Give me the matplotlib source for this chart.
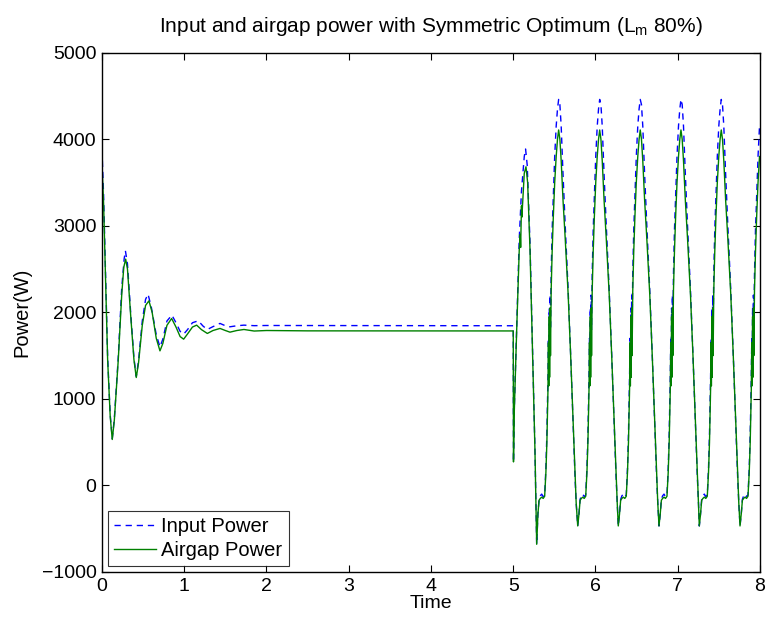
import numpy as np
import matplotlib.pyplot as plt

plt.rcParams['font.family'] = ['Liberation Sans', 'DejaVu Sans']
plt.rcParams['mathtext.default'] = 'regular'

# transient part (time, power)
t_in_early = [0, 0.02, 0.04, 0.069, 0.10, 0.125, 0.15, 0.198, 0.24, 0.27, 0.285, 0.31, 0.35, 0.389,
              0.417, 0.445, 0.49, 0.53, 0.56, 0.60, 0.66, 0.705, 0.74, 0.79, 0.85, 0.90, 0.95, 0.993,
              1.04, 1.10, 1.171, 1.23, 1.281, 1.35, 1.435, 1.50, 1.556, 1.64, 1.726, 1.85, 2.0, 5.0]
p_in_early = [3880, 3350, 2600, 1480, 820, 540, 770, 1480, 2280, 2620, 2711, 2560, 1980, 1470,
              1260, 1440, 1900, 2150, 2210, 2060, 1740, 1601, 1690, 1900, 1968, 1880, 1780, 1748,
              1800, 1880, 1902, 1840, 1802, 1835, 1872, 1845, 1833, 1845, 1852, 1846, 1848, 1845]

t_ag_early = [0, 0.02, 0.04, 0.069, 0.10, 0.125, 0.15, 0.198, 0.24, 0.265, 0.288, 0.31, 0.35, 0.389,
              0.417, 0.445, 0.49, 0.53, 0.571, 0.61, 0.66, 0.705, 0.74, 0.79, 0.847, 0.90, 0.95, 0.993,
              1.04, 1.10, 1.151, 1.21, 1.281, 1.35, 1.435, 1.50, 1.556, 1.64, 1.726, 1.85, 2.0, 2.5, 5.0]
p_ag_early = [3720, 3250, 2500, 1449, 800, 531, 750, 1450, 2200, 2520, 2615, 2500, 1950, 1450,
              1247, 1420, 1850, 2080, 2133, 2000, 1700, 1555, 1640, 1850, 1929, 1830, 1720, 1690,
              1750, 1830, 1852, 1800, 1756, 1790, 1814, 1790, 1771, 1790, 1802, 1784, 1790, 1786, 1785]

# load step at t = 5 up to the first trough
t_in_step = [5.003, 5.008, 5.012, 5.042, 5.073, 5.10, 5.134, 5.150, 5.17, 5.204, 5.244, 5.264]
p_in_step = [272, 620, 850, 1850, 2850, 3400, 3800, 3887, 3700, 2800, 1190, 410]
t_ag_step = [5.003, 5.008, 5.012, 5.042, 5.073, 5.085, 5.09, 5.10, 5.105, 5.134, 5.155, 5.175,
             5.204, 5.244, 5.264]
p_ag_step = [272, 600, 831, 1799, 2720, 2900, 2750, 3230, 3100, 3606, 3682, 3500,
             2720, 1178, 407]

# one period of the loaded oscillation, time measured from each trough
cycle_dt = [0, 0.015, 0.029, 0.044, 0.061, 0.079, 0.097, 0.112, 0.124, 0.137, 0.143, 0.147,
            0.153, 0.157, 0.163, 0.168, 0.176, 0.188, 0.202, 0.219, 0.237, 0.253, 0.267, 0.282,
            0.298, 0.320, 0.347, 0.383, 0.413, 0.444, 0.466, 0.480]
cycle_in = [-468, -330, -160, -120, -100, -130, -110, 200, 600, 1250, 1700, 1350,
            2050, 1500, 2200, 1800, 2450, 2950, 3350, 3800, 4150, 4350, 4460, 4400,
            4150, 3600, 3000, 2250, 1510, 700, 100, -200]
cycle_ag = [-468, -330, -171, -150, -135, -150, -125, 150, 500, 1100, 1650, 1150,
            1950, 1250, 2050, 1500, 2250, 2700, 3100, 3500, 3800, 4000, 4107, 4000,
            3750, 3300, 2850, 2200, 1500, 700, 100, -200]
trough_t = [5.285, 5.784, 6.277, 6.772, 7.262, 7.757]
trough_p = [-680, -468, -468, -468, -468, -468]


def build(t_early, p_early, t_step, p_step, cyc):
    t = list(t_early) + list(t_step)
    p = list(p_early) + list(p_step)
    for t0, pmin in zip(trough_t, trough_p):
        for k, (dt, v) in enumerate(zip(cycle_dt, cyc)):
            if t0 + dt > 8.0:
                break
            t.append(t0 + dt)
            p.append(pmin if k == 0 else v)
    return np.array(t), np.array(p)


t_in, p_in = build(t_in_early, p_in_early, t_in_step, p_in_step, cycle_in)
t_ag, p_ag = build(t_ag_early, p_ag_early, t_ag_step, p_ag_step, cycle_ag)

fig = plt.figure(figsize=(7.69, 6.22), dpi=100)
ax = fig.add_axes([0.1326, 0.0804, 0.8557, 0.8349])

ax.plot(t_in, p_in, color='#0000ff', linewidth=1.0, dashes=(4.5, 3.5), label='Input Power')
ax.plot(t_ag, p_ag, color='#008000', linewidth=1.0, label='Airgap Power')

ax.set_xlim(0, 8)
ax.set_ylim(-1000, 5000)
ax.set_xticks(range(0, 9))
ax.set_yticks(range(-1000, 5001, 1000))
ax.tick_params(direction='in', length=5, width=0.8, top=True, right=True, labelsize=14, pad=4)
for s in ax.spines.values():
    s.set_linewidth(1.0)

ax.set_xlabel('Time', fontsize=14, labelpad=0)
ax.set_ylabel('Power(W)', fontsize=14.5, labelpad=7)
ax.set_title('Input and airgap power with Symmetric Optimum (L$_{m}$ 80%)', fontsize=15, pad=15)

leg = ax.legend(loc='lower left', fontsize=14.5, frameon=True, fancybox=False, edgecolor='black',
                handlelength=2.1, handletextpad=0.25, borderpad=0.3, labelspacing=0.25,
                borderaxespad=0.3)
leg.get_frame().set_linewidth(0.8)

fig.savefig('out.png', dpi=100)
